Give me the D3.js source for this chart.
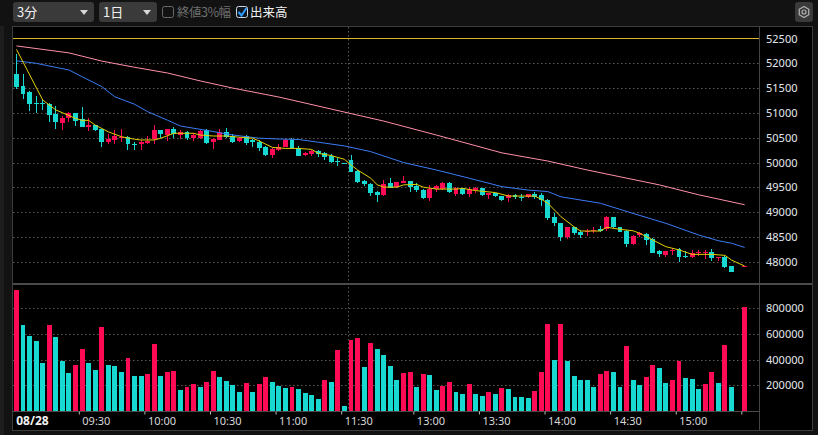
<!DOCTYPE html>
<html>
<head>
<meta charset="utf-8">
<script src="https://cdn.jsdelivr.net/npm/d3@7"></script>
<style>
  body { margin: 0; background: #121212; overflow: hidden; }
  svg { display: block; font-family: "Noto Sans CJK JP", "Noto Sans", sans-serif; }
</style>
</head>
<body>
<svg id="chart" width="818" height="435"></svg>
<script>
// ---- data (3-minute bars, 08/28) ----
const dateLabel = "08/28";
const prevLine = 52500;

const openP = [51790,51545,51430,51200,51200,51180,50980,50805,50900,51005,
  50885,50720,50765,50680,50420,50455,50510,50510,50380,50375,
  50400,50470,50655,50555,50675,50555,50610,50500,50500,50650,
  50410,50455,50610,50540,50435,50540,50455,50420,50315,50150,
  50260,50315,50455,50285,50150,50165,50235,50185,50140,50030,
  49985,50050,49830,49630,49560,49415,49345,49580,49515,49590,
  49630,49530,49455,49290,49465,49465,49595,49365,49480,49365,
  49455,49480,49350,49380,49325,49280,49345,49310,49300,49375,
  49345,49245,48910,48790,48505,48695,48605,48600,48615,48665,
  48665,48910,48695,48625,48360,48535,48560,48460,48220,48135,
  48210,48250,48115,48105,48170,48170,48205,48090,48105,47915,
  null,47900];
const highP = [52185,51790,51450,51340,51275,51195,51140,50940,51025,51005,
  51125,50890,50765,50680,50570,50655,50680,50535,50415,50455,
  50535,50755,50655,50675,50715,50655,50635,50590,50655,50675,
  50500,50675,50690,50570,50520,50555,50475,50455,50340,50285,
  50370,50475,50490,50340,50220,50255,50255,50205,50165,50100,
  49985,50150,49850,49650,49580,49425,49650,49685,49615,49730,
  49630,49580,49465,49550,49550,49600,49615,49515,49480,49515,
  49515,49480,49395,49395,49325,49365,49365,49365,49365,49415,
  49395,49260,48975,48790,48695,48710,48640,48665,48695,48720,
  48925,48910,48695,48640,48535,48605,48575,48475,48240,48225,
  48270,48270,48220,48240,48240,48240,48250,48105,48115,47915,
  null,47915];
const lowP = [51490,51285,51045,51005,51075,50825,50690,50670,50825,50755,
  50720,50640,50640,50320,50375,50375,50420,50265,50255,50265,
  50375,50375,50500,50435,50500,50475,50455,50435,50490,50390,
  50275,50455,50500,50410,50420,50355,50320,50235,50140,50100,
  50235,50315,50275,50140,50140,50150,50120,50070,50005,49935,
  49985,49815,49600,49535,49330,49225,49345,49495,49495,49590,
  49425,49425,49280,49245,49415,49455,49395,49345,49365,49325,
  49395,49345,49280,49310,49245,49210,49280,49245,49300,49280,
  49135,48855,48740,48425,48475,48560,48495,48520,48585,48615,
  48640,48695,48605,48305,48340,48505,48340,48185,48115,48105,
  48155,48000,48090,48090,48135,48070,48035,48025,47890,47800,
  null,47900];
const closeP = [51530,51385,51185,51175,51190,50960,50825,50905,51005,50845,
  50720,50765,50655,50420,50480,50535,50520,50375,50370,50420,
  50440,50655,50575,50675,50570,50620,50490,50555,50635,50400,
  50475,50610,50520,50420,50500,50390,50410,50285,50150,50275,
  50315,50455,50285,50140,50200,50235,50165,50120,50015,50005,
  49985,49815,49600,49560,49395,49345,49575,49495,49615,49630,
  49515,49455,49290,49460,49520,49580,49415,49480,49365,49460,
  49480,49345,49380,49325,49245,49345,49300,49300,49365,49310,
  49240,48875,48775,48505,48695,48575,48540,48625,48640,48625,
  48910,48695,48605,48360,48520,48575,48440,48185,48155,48220,
  48240,48090,48090,48185,48195,48195,48070,48105,47900,47800,
  null,47915];

const volume = [945000,668000,582000,542000,376000,668000,574000,387000,297000,361000,
  479000,376000,321000,653000,361000,353000,305000,416000,274000,274000,
  290000,518000,274000,305000,313000,163000,187000,211000,187000,226000,
  313000,266000,234000,203000,147000,218000,147000,211000,266000,226000,
  195000,179000,187000,171000,139000,124000,92000,242000,226000,471000,
  37000,550000,566000,345000,526000,479000,432000,353000,242000,297000,
  305000,187000,290000,282000,163000,195000,226000,147000,132000,211000,
  132000,116000,147000,132000,179000,171000,108000,108000,100000,155000,
  305000,676000,400000,676000,392000,274000,242000,242000,187000,290000,
  313000,305000,187000,503000,242000,203000,266000,361000,337000,218000,
  242000,392000,258000,250000,171000,211000,305000,218000,511000,187000,
  null,811000];
// 1 = red bar, 0 = cyan bar
const volUp = [1,0,0,0,0,1,0,0,0,1, 1,0,0,1,0,0,0,1,0,0, 1,1,0,1,1,0,1,1,0,1,
  1,0,0,0,0,1,0,1,1,0, 0,0,1,0,0,0,0,1,0,1, 0,1,1,0,1,0,0,0,0,1,
  1,0,1,0,0,1,1,0,0,1, 0,0,1,0,1,0,0,0,0,1, 1,1,0,1,0,0,0,0,0,1,
  1,0,0,1,0,0,1,1,0,0, 1,1,0,0,0,1,1,0,1,0, null,1];

// moving averages, [bar index, value]
const maShort = [[0,52280],[4,51260],[6,51060],[9,50890],[10,50850],[11,50850],[12,50755],[14,50620],
  [16,50520],[18,50470],[19,50455],[21,50455],[22,50490],[23,50540],[24,50590],[27,50590],[28,50555],
  [30,50535],[32,50535],[34,50510],[36,50490],[37,50435],[38,50370],[39,50305],[41,50285],[43,50285],
  [45,50265],[46,50185],[48,50140],[50,50065],[51,49950],[52,49850],[54,49685],[55,49550],[56,49505],
  [58,49505],[59,49550],[61,49560],[62,49505],[64,49465],[67,49465],[68,49480],[70,49435],[73,49395],
  [75,49325],[79,49325],[80,49260],[81,49180],[83,48910],[85,48705],[86,48620],[89,48620],[90,48695],
  [92,48655],[94,48625],[95,48575],[97,48440],[99,48305],[101,48240],[103,48150],[106,48150],
  [108,48130],[109,48035],[111,47915]];
const maMid = [[0,52050],[3,52000],[5,51945],[8,51865],[10,51730],[13,51530],[15,51325],[18,51175],
  [20,51025],[23,50855],[25,50735],[28,50670],[33,50555],[37,50490],[40,50475],[43,50465],[46,50410],
  [50,50335],[54,50220],[59,50000],[64,49850],[69,49685],[74,49515],[78,49445],[81,49415],[83,49310],
  [89,49180],[94,48975],[99,48775],[104,48540],[107,48425],[109,48375],[111,48290]];
const maLong = [[0,52350],[8,52210],[13,52045],[18,51920],[23,51805],[28,51645],[33,51500],[40,51320],
  [56,50835],[64,50555],[74,50195],[81,50030],[87,49850],[98,49550],[104,49350],[111,49150]];

const priceTicks = [52500,52000,51500,51000,50500,50000,49500,49000,48500,48000];
const priceGrid = [52000,51500,51000,50500,50000,49500,49000,48500,48000];
const volTicks = [800000,600000,400000,200000];
const axisTimes = ["09:30","10:00","10:30","11:00","11:30","13:00","13:30","14:00","14:30","15:00","15:30"];

// bar slots: morning 09:00-11:30, afternoon 12:30-15:30
const pad = n => String(n).padStart(2, "0");
const times = [];
for (let m = 9 * 60; m <= 11 * 60 + 30; m += 3) times.push(pad(Math.floor(m / 60)) + ":" + pad(m % 60));
for (let m = 12 * 60 + 30; m <= 15 * 60 + 30; m += 3) times.push(pad(Math.floor(m / 60)) + ":" + pad(m % 60));

const bars = times.map((t, i) => ({t: t, i: i, o: openP[i], h: highP[i], l: lowP[i], c: closeP[i], v: volume[i], up: volUp[i]}))
  .filter(d => d.o != null);

const RED = "#ff0a54", CYAN = "#17d9d2";

const svg = d3.select("#chart");

// ---- toolbar ----
const tb = svg.append("g");
tb.append("rect").attr("x", 13).attr("y", 2).attr("width", 81).attr("height", 20).attr("rx", 3).attr("fill", "#3a3a3a");
tb.append("text").attr("x", 17).attr("y", 17).attr("fill", "#f0f0f0").attr("font-size", 13).text("3分");
tb.append("polygon").attr("points", "80,10 88,10 84,15").attr("fill", "#d8d8d8");
tb.append("rect").attr("x", 99).attr("y", 2).attr("width", 58).attr("height", 20).attr("rx", 3).attr("fill", "#3a3a3a");
tb.append("text").attr("x", 103).attr("y", 17).attr("fill", "#f0f0f0").attr("font-size", 13).text("1日");
tb.append("polygon").attr("points", "143,10 151,10 147,15").attr("fill", "#d8d8d8");
tb.append("rect").attr("x", 162.5).attr("y", 6.5).attr("width", 11).attr("height", 11).attr("rx", 2)
  .attr("fill", "none").attr("stroke", "#6a6a6a");
tb.append("text").attr("x", 177).attr("y", 17).attr("fill", "#6f6f6f").attr("font-size", 12.5)
  .attr("textLength", 54).text("終値3%幅");
tb.append("rect").attr("x", 236.5).attr("y", 6.5).attr("width", 11).attr("height", 11).attr("rx", 2)
  .attr("fill", "#0e1622").attr("stroke", "#cfd6de");
tb.append("path").attr("d", "M238.5,12 L241.5,15.5 L246.5,8").attr("fill", "none")
  .attr("stroke", "#2f9bff").attr("stroke-width", 2);
tb.append("text").attr("x", 250).attr("y", 17).attr("fill", "#f0f0f0").attr("font-size", 12.5).text("出来高");
tb.append("rect").attr("x", 795).attr("y", 2).attr("width", 18).attr("height", 20).attr("rx", 3).attr("fill", "#3a3a3a");
const gear = d3.range(6).map(k => {
  const a = Math.PI / 6 + k * Math.PI / 3;
  return [804 + 5.5 * Math.cos(a), 12 + 5.5 * Math.sin(a)];
});
tb.append("polygon").attr("points", gear.map(p => p.join(",")).join(" "))
  .attr("fill", "none").attr("stroke", "#b0b0b0").attr("stroke-width", 1.3).attr("stroke-linejoin", "round");
tb.append("circle").attr("cx", 804).attr("cy", 12).attr("r", 2).attr("fill", "none").attr("stroke", "#b0b0b0").attr("stroke-width", 1.2);

// ---- frame ----
svg.append("rect").attr("x", 0).attr("y", 26).attr("width", 4).attr("height", 409).attr("fill", "#1d1d1d");
svg.append("rect").attr("x", 12.5).attr("y", 26.5).attr("width", 800).attr("height", 404)
  .attr("fill", "#000").attr("stroke", "#3c3c3c");

// ---- scales ----
const x = d3.scaleBand().domain(times).range([13.2, 747.9]).paddingInner(0.25).paddingOuter(0.125);
const xSlot = d3.scaleLinear().domain([0, times.length]).range([13.2, 747.9]);
const bw = x.bandwidth();
const cx = i => x(times[i]) + bw / 2;
const yP = d3.scaleLinear().domain([48000, 52000]).range([261.8, 63.3]);
const yV = d3.scaleLinear().domain([0, 800000]).range([410.8, 308.3]);

// ---- grid ----
const grid = svg.append("g").attr("stroke", "#5a5a5a").attr("stroke-dasharray", "1.5,2.5");
grid.selectAll(".gp").data(priceGrid).join("line")
  .attr("x1", 13).attr("x2", 759).attr("y1", d => Math.round(yP(d)) + 0.5).attr("y2", d => Math.round(yP(d)) + 0.5);
grid.selectAll(".gv").data(volTicks).join("line")
  .attr("x1", 13).attr("x2", 759).attr("y1", d => Math.round(yV(d)) + 0.5).attr("y2", d => Math.round(yV(d)) + 0.5);
grid.append("line").attr("x1", Math.round(xSlot(51)) + 0.5).attr("x2", Math.round(xSlot(51)) + 0.5)
  .attr("y1", 27).attr("y2", 411);

svg.append("line").attr("x1", 13).attr("x2", 759).attr("y1", Math.round(yP(prevLine)) + 0.5).attr("y2", Math.round(yP(prevLine)) + 0.5)
  .attr("stroke", "#d9b52a");

// ---- pane lines ----
svg.append("line").attr("x1", 759.5).attr("x2", 759.5).attr("y1", 26.5).attr("y2", 430.5).attr("stroke", "#444");
svg.append("line").attr("x1", 12.5).attr("x2", 812.5).attr("y1", 284).attr("y2", 284).attr("stroke", "#4a4a4a").attr("stroke-width", 2);
svg.append("line").attr("x1", 12.5).attr("x2", 759.5).attr("y1", 411.5).attr("y2", 411.5).attr("stroke", "#4a4a4a");

// ---- candles ----
const cg = svg.append("g").attr("shape-rendering", "crispEdges");
cg.selectAll(".wick").data(bars).join("line")
  .attr("x1", d => cx(d.i)).attr("x2", d => cx(d.i))
  .attr("y1", d => yP(d.h)).attr("y2", d => yP(d.l) + 0.5)
  .attr("stroke", d => d.c > d.o ? RED : CYAN);
cg.selectAll(".body").data(bars).join("rect")
  .attr("x", d => x(d.t)).attr("width", bw)
  .attr("y", d => yP(Math.max(d.o, d.c)))
  .attr("height", d => Math.max(1, Math.abs(yP(d.o) - yP(d.c))))
  .attr("fill", d => d.c > d.o ? RED : CYAN);

// ---- moving averages ----
const line = d3.line().x(d => cx(d[0])).y(d => yP(d[1]));
svg.append("path").datum(maLong).attr("d", line).attr("fill", "none").attr("stroke", "#ff8fa8").attr("stroke-width", 1);
svg.append("path").datum(maMid).attr("d", line).attr("fill", "none").attr("stroke", "#3b7cf5").attr("stroke-width", 1);
svg.append("path").datum(maShort).attr("d", line).attr("fill", "none").attr("stroke", "#e2d000").attr("stroke-width", 1);

// ---- volume ----
svg.append("g").attr("shape-rendering", "crispEdges")
  .selectAll("rect").data(bars).join("rect")
  .attr("x", d => x(d.t)).attr("width", bw)
  .attr("y", d => yV(d.v)).attr("height", d => yV(0) - yV(d.v))
  .attr("fill", d => d.up ? RED : CYAN);

// ---- axes ----
const pAxis = svg.append("g").attr("transform", "translate(766,0)")
  .call(d3.axisRight(yP).tickValues(priceTicks).tickSize(0).tickPadding(0).tickFormat(d3.format("d")));
pAxis.select(".domain").remove();
pAxis.selectAll("text").attr("fill", "#e4e8ee").attr("font-size", 11).attr("font-family", "Noto Sans, sans-serif");

const vAxis = svg.append("g").attr("transform", "translate(766,0)")
  .call(d3.axisRight(yV).tickValues(volTicks).tickSize(0).tickPadding(0).tickFormat(d3.format("d")));
vAxis.select(".domain").remove();
vAxis.selectAll("text").attr("fill", "#e4e8ee").attr("font-size", 11).attr("font-family", "Noto Sans, sans-serif");

const tAxis = svg.append("g").attr("transform", "translate(0,411.5)")
  .call(d3.axisBottom(xSlot).tickValues(axisTimes.map(t => times.indexOf(t)))
    .tickSize(3).tickPadding(3).tickFormat(i => times[i] === "15:30" ? "" : times[i]));
tAxis.select(".domain").remove();
tAxis.selectAll("line").attr("stroke", "#bbb");
tAxis.selectAll("text").attr("x", 3).attr("text-anchor", "start").attr("fill", "#d8d8d8")
  .attr("font-size", 11).attr("font-family", "Noto Sans, sans-serif");

svg.append("text").attr("x", xSlot(0) + 3).attr("y", 425).attr("fill", "#f2f2f2")
  .attr("font-size", 12).attr("font-weight", "bold").attr("font-family", "Noto Sans, sans-serif")
  .text(dateLabel);
</script>
</body>
</html>
